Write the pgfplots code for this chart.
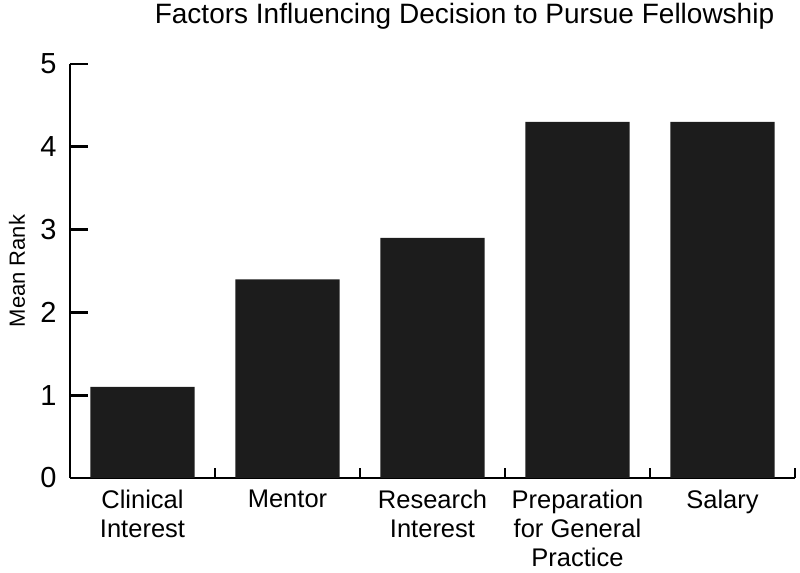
\documentclass[border=0pt]{standalone}
\usepackage{fontspec}
\setmainfont{Liberation Sans}
\usepackage{pgfplots}
\pgfplotsset{compat=1.18}

\definecolor{barfill}{HTML}{1C1C1C}

\begin{document}
\begin{tikzpicture}
\useasboundingbox (-35pt,-47.5pt) rectangle (365pt,239pt);
\begin{axis}[
    scale only axis,
    width=362.5pt, height=207pt,
    xmin=-0.5, xmax=4.5,
    ymin=0, ymax=5,
    axis x line=bottom, axis y line=left,
    axis line style={-, line width=1.4pt, black},
    xtick={0,1,2,3,4},
    xticklabels={{Clinical\\Interest}, Mentor, {Research\\Interest}, {Preparation\\for General\\Practice}, Salary},
    minor xtick={0.5,1.5,2.5,3.5,4.5},
    major x tick style={draw=none},
    ytick={0,1,2,3,4,5},
    tick align=inside,
    major tick length=9pt,
    minor tick length=4.75pt,
    tick style={line width=1.4pt, black},
    /pgf/number format/assume math mode=true,
    yticklabel style={font=\fontsize{14.5}{17}\selectfont, inner sep=0pt, xshift=-6.5pt},
    xticklabel style={font=\fontsize{12.75}{14.5}\selectfont, align=center, anchor=north, inner sep=0pt, yshift=-5.7pt},
    ylabel={Mean Rank},
    ylabel style={font=\fontsize{11}{13}\selectfont, at={(axis description cs:-0.0731,0.5)}, anchor=center},
]
\addplot[ybar, bar width=0.72, fill=barfill, draw=none] coordinates {
    (0,1.1) (1,2.4) (2,2.9) (3,4.3) (4,4.3)
};
\end{axis}
% title
\node[anchor=base, inner sep=0pt, font=\fontsize{14}{16}\selectfont] at (197.25pt,227pt)
    {Factors Influencing Decision to Pursue Fellowship};
\end{tikzpicture}
\end{document}
